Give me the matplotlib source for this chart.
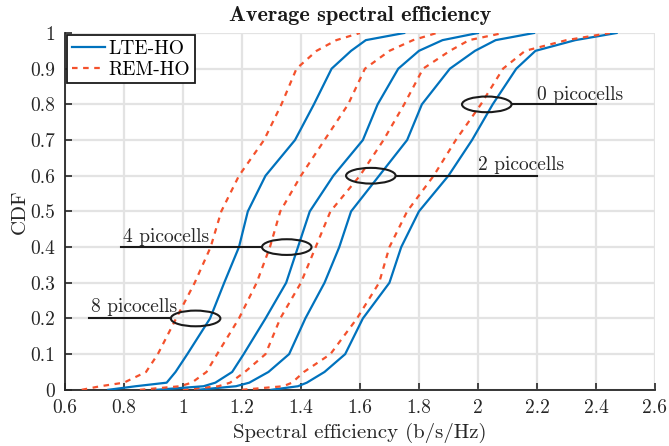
import matplotlib
matplotlib.use("Agg")
import matplotlib.pyplot as plt
from matplotlib.patches import Ellipse

plt.rcParams['font.family'] = ['cmr10', 'DejaVu Serif']
plt.rcParams['axes.formatter.use_mathtext'] = True

# CDF levels and the x value of each curve at those levels
cdf = [0, 0.01, 0.02, 0.05, 0.1, 0.2, 0.3, 0.4, 0.5, 0.6, 0.7, 0.8, 0.9, 0.95, 0.98, 1.0]

lte_0 = [1.30, 1.39, 1.42, 1.48, 1.55, 1.61, 1.70, 1.74, 1.80, 1.90, 1.98, 2.05, 2.13, 2.195, 2.33, 2.47]
rem_0 = [1.20, 1.34, 1.37, 1.41, 1.50, 1.59, 1.665, 1.70, 1.76, 1.85, 1.925, 2.01, 2.085, 2.16, 2.30, 2.447]
lte_2 = [1.05, 1.18, 1.225, 1.29, 1.36, 1.415, 1.48, 1.53, 1.57, 1.665, 1.76, 1.81, 1.905, 1.99, 2.06, 2.19]
rem_2 = [1.00, 1.12, 1.16, 1.21, 1.28, 1.33, 1.40, 1.45, 1.50, 1.60, 1.68, 1.75, 1.814, 1.905, 1.97, 2.085]
lte_4 = [0.91, 1.07, 1.11, 1.167, 1.206, 1.28, 1.35, 1.39, 1.43, 1.51, 1.61, 1.66, 1.73, 1.80, 1.88, 2.00]
rem_4 = [0.854, 0.99, 1.03, 1.08, 1.116, 1.19, 1.25, 1.295, 1.33, 1.40, 1.48, 1.56, 1.617, 1.70, 1.78, 1.86]
lte_8 = [0.747, 0.84, 0.945, 0.975, 1.015, 1.092, 1.14, 1.19, 1.22, 1.28, 1.38, 1.444, 1.504, 1.57, 1.62, 1.75]
rem_8 = [0.657, 0.72, 0.80, 0.875, 0.915, 0.977, 1.04, 1.094, 1.13, 1.19, 1.275, 1.334, 1.385, 1.453, 1.52, 1.60]

xticks = [0.6, 0.8, 1.0, 1.2, 1.4, 1.6, 1.8, 2.0, 2.2, 2.4, 2.6]
xtick_labels = ['0.6', '0.8', '1', '1.2', '1.4', '1.6', '1.8', '2', '2.2', '2.4', '2.6']
yticks = [0, 0.1, 0.2, 0.3, 0.4, 0.5, 0.6, 0.7, 0.8, 0.9, 1.0]
ytick_labels = ['0', '0.1', '0.2', '0.3', '0.4', '0.5', '0.6', '0.7', '0.8', '0.9', '1']

# annotations: label, ellipse centre, line end, text position
notes = [
    ('0 picocells', (2.03, 0.80), 2.40, (2.20, 0.813)),
    ('2 picocells', (1.637, 0.60), 2.20, (2.00, 0.615)),
    ('4 picocells', (1.352, 0.40), 0.79, (0.796, 0.415)),
    ('8 picocells', (1.043, 0.20), 0.682, (0.688, 0.218)),
]

blue = '#0072BD'
red = '#F4512C'

fig = plt.figure(figsize=(6.69, 4.46), dpi=100)
ax = fig.add_axes([0.097, 0.126, 0.882, 0.800])

lte = [lte_0, lte_2, lte_4, lte_8]
rem = [rem_0, rem_2, rem_4, rem_8]
for i in range(4):
    ax.plot(lte[i], cdf, color=blue, lw=1.6, label='LTE-HO' if i == 0 else None, zorder=3)
    ax.plot(rem[i], cdf, color=red, lw=1.6, ls=(0, (2.5, 2.5)), label='REM-HO' if i == 0 else None, zorder=3)

for label, (cx, cy), xend, (tx, ty) in notes:
    w, h = 0.168, 0.044
    ax.add_patch(Ellipse((cx, cy), w, h, fill=False, ec='#1a1a1a', lw=1.5, zorder=4))
    if xend > cx:
        ax.plot([cx + w / 2, xend], [cy, cy], color='#1a1a1a', lw=1.5, zorder=4)
    else:
        ax.plot([xend, cx - w / 2], [cy, cy], color='#1a1a1a', lw=1.5, zorder=4)
    ax.text(tx, ty, label, fontsize=14, color='#262626', ha='left', va='baseline', zorder=5)

ax.set_xlim(0.6, 2.6)
ax.set_ylim(0, 1)
ax.set_xticks(xticks)
ax.set_xticklabels(xtick_labels)
ax.set_yticks(yticks)
ax.set_yticklabels(ytick_labels)
ax.tick_params(direction='in', length=5, width=1.2, labelsize=14, colors='#262626', pad=7)
ax.grid(True, color='#e3e3e3', lw=1.6, zorder=0)
ax.set_axisbelow(True)
for s in ['top', 'right']:
    ax.spines[s].set_visible(False)
for s in ['left', 'bottom']:
    ax.spines[s].set_linewidth(1.3)
    ax.spines[s].set_color('#262626')

ax.set_xlabel('Spectral efficiency (b/s/Hz)', fontsize=15, color='#262626', labelpad=4)
ax.set_ylabel('CDF', fontsize=15, color='#262626', labelpad=1)
ax.set_title('Average spectral efficiency', fontsize=16, fontfamily='cmb10', color='#1a1a1a', pad=9)

leg = ax.legend(loc='upper left', fontsize=14, fancybox=False, framealpha=1,
                edgecolor='#1a1a1a', borderpad=0.25, handlelength=1.7, handletextpad=0.2,
                labelspacing=0.15, borderaxespad=0.1)
leg.get_frame().set_linewidth(1.3)

fig.savefig('out.png', dpi=100)
